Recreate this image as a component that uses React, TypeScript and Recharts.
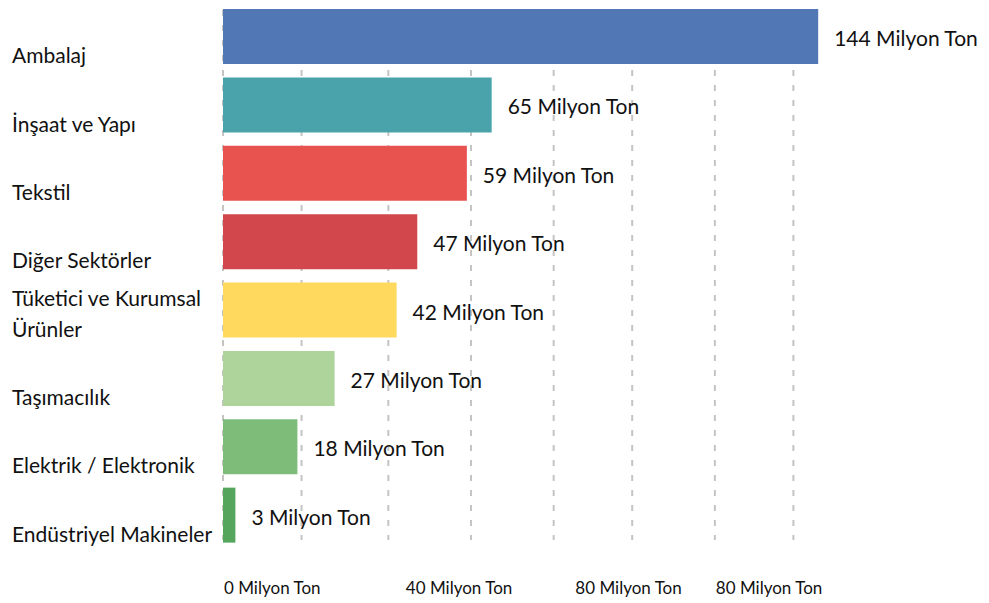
import { Bar, BarChart, CartesianGrid, Cell, LabelList, XAxis, YAxis } from 'recharts'

const categories = [
  'Ambalaj',
  'İnşaat ve Yapı',
  'Tekstil',
  'Diğer Sektörler',
  'Tüketici ve Kurumsal Ürünler',
  'Taşımacılık',
  'Elektrik / Elektronik',
  'Endüstriyel Makineler',
]
const amounts = [144, 65, 59, 47, 42, 27, 18, 3]
const barColors = ['#5178b5', '#4aa3ab', '#e9534f', '#d1474b', '#fed95d', '#aed49b', '#7dbc79', '#55a65c']

const gridTicks = [0, 19, 40, 60, 80, 99, 119, 138]
const axisTickValues = [0, 44, 85, 119]
const axisTickLabels = ['0 Milyon Ton', '40 Milyon Ton', '80 Milyon Ton', '80 Milyon Ton']

const FONT = 'Lato, "Open Sans", sans-serif'

function wrap(text: string, max = 21) {
  const lines: string[] = []
  let cur = ''
  for (const w of text.split(' ')) {
    const next = cur ? `${cur} ${w}` : w
    if (next.length > max && cur) {
      lines.push(cur)
      cur = w
    } else cur = next
  }
  if (cur) lines.push(cur)
  return lines
}

function CategoryTick({ y, payload }: any) {
  const lines = wrap(String(payload.value))
  const last = y + 27
  return (
    <text fontFamily={FONT} fontSize={21} fill="#111">
      {lines.map((line, i) => (
        <tspan key={i} x={12} y={last - (lines.length - 1 - i) * 31}>
          {line}
        </tspan>
      ))}
    </text>
  )
}

function AxisTick({ x, y, payload }: any) {
  const i = axisTickValues.indexOf(payload.value)
  return (
    <text x={x + 1} y={y + 37} textAnchor="start" fontFamily={FONT} fontSize={17} fill="#111">
      {axisTickLabels[i]}
    </text>
  )
}

function ValueLabel({ x, y, width, height, value }: any) {
  return (
    <text
      x={x + width + 16}
      y={y + height / 2 + 1}
      dominantBaseline="central"
      fontFamily={FONT}
      fontSize={21}
      fill="#111"
    >
      {`${value} Milyon Ton`}
    </text>
  )
}

export default function App() {
  const data = categories.map((name, i) => ({ name, value: amounts[i] }))
  return (
    <div style={{ position: 'absolute', left: 0, top: 0, background: '#fff' }}>
      <BarChart
        width={989}
        height={603}
        data={data}
        layout="vertical"
        margin={{ top: 2, right: 146, bottom: 0, left: 0 }}
      >
        <CartesianGrid
          horizontal={false}
          verticalValues={gridTicks}
          vertical={(p: any) => (
            <line
              key={`v-${p.index}`}
              x1={p.x1}
              x2={p.x2}
              y1={p.y1 + 8}
              y2={p.y2 - 9}
              stroke="#c6c3c3"
              strokeWidth={2}
              strokeDasharray="6 9"
            />
          )}
        />
        <XAxis
          type="number"
          domain={[0, 150]}
          ticks={axisTickValues}
          height={54}
          axisLine={false}
          tickLine={false}
          tick={<AxisTick />}
          interval={0}
        />
        <YAxis
          type="category"
          dataKey="name"
          width={223}
          axisLine={false}
          tickLine={false}
          tick={<CategoryTick />}
          interval={0}
        />
        <Bar dataKey="value" barSize={55} isAnimationActive={false}>
          {data.map((d, i) => (
            <Cell key={d.name} fill={barColors[i]} />
          ))}
          <LabelList dataKey="value" content={<ValueLabel />} />
        </Bar>
      </BarChart>
    </div>
  )
}
